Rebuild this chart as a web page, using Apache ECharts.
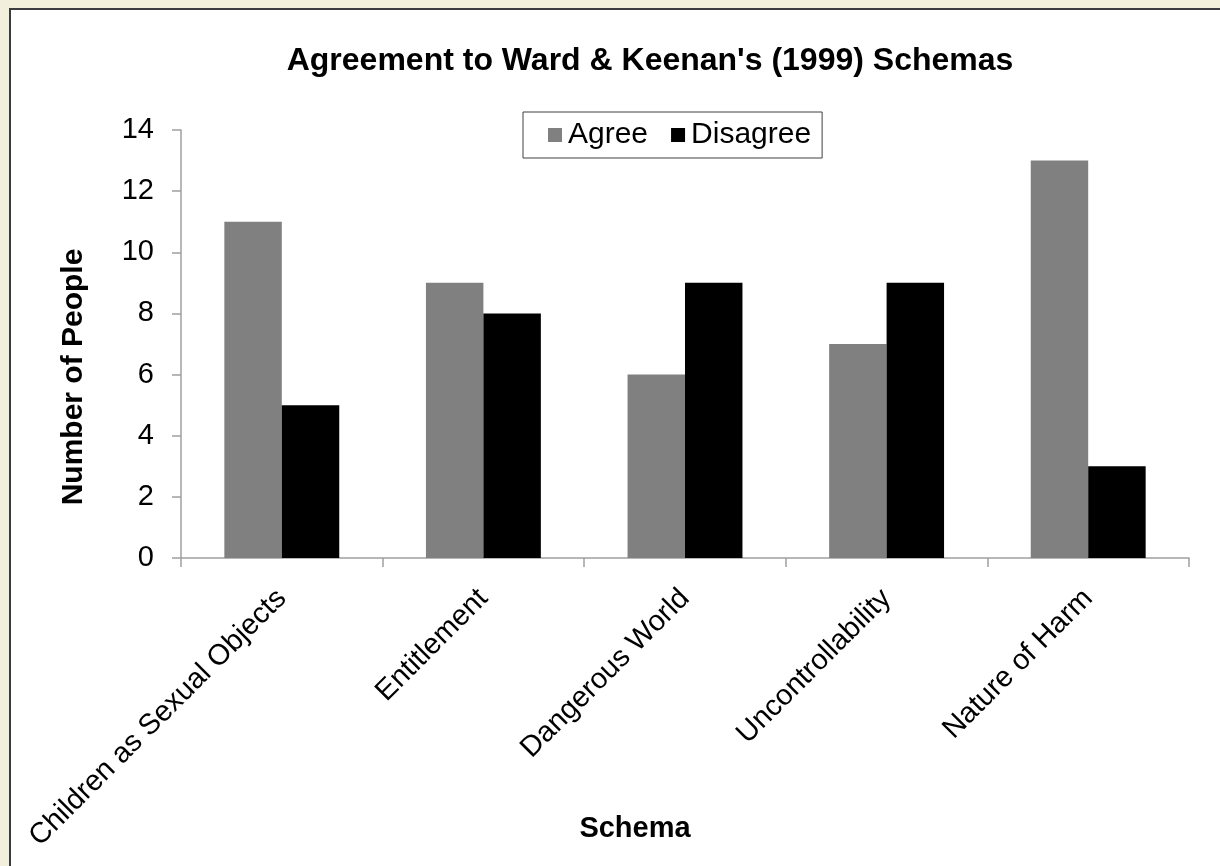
<!DOCTYPE html>
<html>
<head>
<meta charset="utf-8">
<script src="https://cdn.jsdelivr.net/npm/echarts@6/dist/echarts.min.js"></script>
<style>
html,body{margin:0;padding:0;background:#f2f0dc;}
#c{width:1220px;height:866px;}
</style>
</head>
<body>
<div id="c"></div>
<script>
const categories = ['Children as Sexual Objects', 'Entitlement', 'Dangerous World', 'Uncontrollability', 'Nature of Harm'];
const agree = [11, 9, 6, 7, 13];
const disagree = [5, 8, 9, 9, 3];
const seriesNames = ['Agree', 'Disagree'];
const titleText = "Agreement to Ward & Keenan's (1999) Schemas";
const yName = 'Number of People';
const xName = 'Schema';

const FONT = "'Liberation Sans', Arial, sans-serif";
const chart = echarts.init(document.getElementById('c'));
chart.setOption({
  backgroundColor: '#f2f0dc',
  animation: false,
  textStyle: { fontFamily: FONT },
  graphic: [
    { type: 'rect', z: -100, shape: { x: 10, y: 9, width: 1300, height: 1000 },
      style: { fill: '#ffffff', stroke: '#3b3b42', lineWidth: 2 } },
    { type: 'text', z: 10, x: 74, y: 377, rotation: Math.PI / 2,
      style: { text: yName, font: "bold 30px " + FONT, fill: '#000', align: 'center', verticalAlign: 'middle' } },
    { type: 'text', z: 10, x: 635, y: 829,
      style: { text: xName, font: "bold 29px " + FONT, fill: '#000', align: 'center', verticalAlign: 'middle' } }
  ],
  title: {
    text: titleText,
    left: 645, top: 40,
    textAlign: 'center',
    textStyle: { fontSize: 32, fontWeight: 'bold', color: '#000', fontFamily: FONT }
  },
  legend: {
    left: 523, top: 112,
    padding: [8, 11, 8, 25],
    itemWidth: 14, itemHeight: 14, itemGap: 23,
    borderColor: '#404040', borderWidth: 1,
    backgroundColor: '#fff',
    icon: 'rect',
    textStyle: { fontSize: 30, color: '#000', fontFamily: FONT, padding: [0, 0, 0, 1] },
    data: seriesNames
  },
  grid: { left: 181, right: 31, top: 130, bottom: 308, containLabel: false },
  xAxis: {
    type: 'category',
    data: categories,
    axisLine: { lineStyle: { color: '#a0a0a0', width: 1.5 } },
    axisTick: { show: true, length: 9, lineStyle: { color: '#a0a0a0', width: 1.5 } },
    axisLabel: { rotate: 45, fontSize: 29, color: '#000', margin: 36, interval: 0, fontFamily: FONT }
  },
  yAxis: {
    type: 'value',
    min: 0, max: 14, interval: 2,
    axisLine: { show: true, lineStyle: { color: '#a0a0a0', width: 1.5 } },
    axisTick: { show: true, length: 9, lineStyle: { color: '#a0a0a0', width: 1.5 } },
    splitLine: { show: false },
    axisLabel: { fontSize: 29, color: '#000', margin: 27, fontFamily: FONT }
  },
  series: [
    { name: seriesNames[0], type: 'bar', data: agree, barGap: '0%', barCategoryGap: '43%',
      itemStyle: { color: '#808080' } },
    { name: seriesNames[1], type: 'bar', data: disagree, barGap: '0%', barCategoryGap: '43%',
      itemStyle: { color: '#000000' } }
  ]
});
</script>
</body>
</html>
